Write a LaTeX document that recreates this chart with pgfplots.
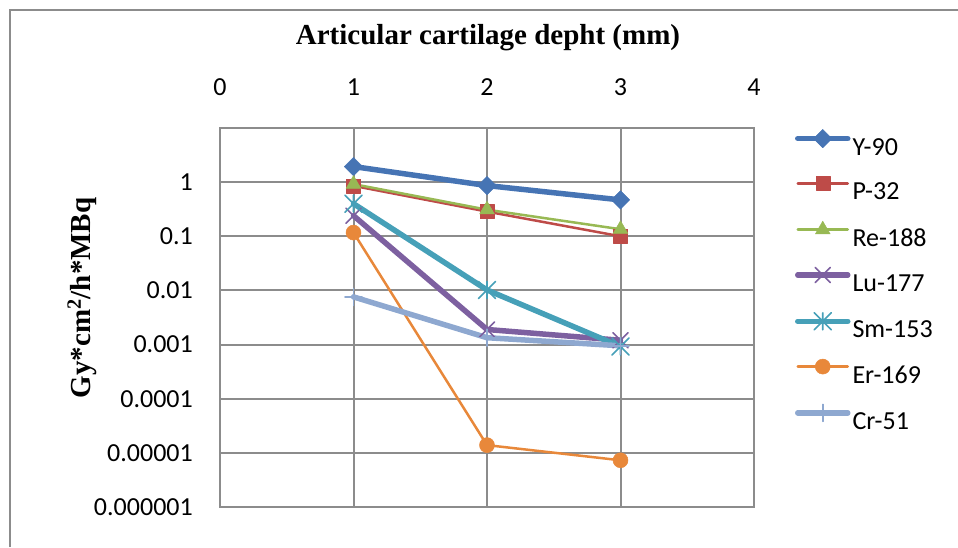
\documentclass[border=0pt]{standalone}
\usepackage{fontspec}
\setmainfont{Carlito}
\newfontfamily\tnr{Liberation Serif}
\usepackage{pgfplots}
\pgfplotsset{compat=1.18}
\definecolor{gridgray}{HTML}{8C8C8C}
\definecolor{cY}{HTML}{4674B4}
\definecolor{cP}{HTML}{BE4B48}
\definecolor{cRe}{HTML}{98B954}
\definecolor{cLu}{HTML}{7D60A0}
\definecolor{cSm}{HTML}{46A0B8}
\definecolor{cEr}{HTML}{E8883A}
\definecolor{cCr}{HTML}{8EA8D0}
\pgfdeclareplotmark{exx}{%
 \pgfpathmoveto{\pgfqpoint{-\pgfplotmarksize}{-\pgfplotmarksize}}%
 \pgfpathlineto{\pgfqpoint{\pgfplotmarksize}{\pgfplotmarksize}}%
 \pgfpathmoveto{\pgfqpoint{-\pgfplotmarksize}{\pgfplotmarksize}}%
 \pgfpathlineto{\pgfqpoint{\pgfplotmarksize}{-\pgfplotmarksize}}%
 \pgfusepathqstroke}
\pgfdeclareplotmark{exstar}{%
 \pgfpathmoveto{\pgfqpoint{-\pgfplotmarksize}{-\pgfplotmarksize}}%
 \pgfpathlineto{\pgfqpoint{\pgfplotmarksize}{\pgfplotmarksize}}%
 \pgfpathmoveto{\pgfqpoint{-\pgfplotmarksize}{\pgfplotmarksize}}%
 \pgfpathlineto{\pgfqpoint{\pgfplotmarksize}{-\pgfplotmarksize}}%
 \pgfpathmoveto{\pgfqpoint{0pt}{-\pgfplotmarksize}}%
 \pgfpathlineto{\pgfqpoint{0pt}{\pgfplotmarksize}}%
 \pgfusepathqstroke}
\pgfdeclareplotmark{explus}{%
 \pgfpathmoveto{\pgfqpoint{-\pgfplotmarksize}{0pt}}%
 \pgfpathlineto{\pgfqpoint{\pgfplotmarksize}{0pt}}%
 \pgfpathmoveto{\pgfqpoint{0pt}{-\pgfplotmarksize}}%
 \pgfpathlineto{\pgfqpoint{0pt}{\pgfplotmarksize}}%
 \pgfusepathqstroke}
\begin{document}
\begin{tikzpicture}
\useasboundingbox (0pt,0pt) rectangle (958pt,547pt);
\draw[gridgray, line width=2pt] (9.5pt,0pt) -- (9.5pt,537pt) -- (958pt,537pt);
\begin{axis}[
  at={(220pt,40pt)}, anchor=south west,
  scale only axis, width=534pt, height=379pt,
  xmin=0, xmax=4, ymin=1e-6, ymax=10, ymode=log,
  xtick={0,1,2,3,4}, xticklabel pos=upper,
  ytick={1e-6,1e-5,1e-4,1e-3,1e-2,1e-1,1},
  yticklabels={0.000001,0.00001,0.0001,0.001,0.01,0.1,1},
  minor y tick num=0, minor ytick={},
  major tick length=0pt, minor tick length=0pt,
  grid=major,
  major grid style={line width=2pt, color=gridgray},
  axis line style={line width=2pt, color=gridgray},
  /pgf/number format/assume math mode=true,
  tick label style={font=\fontsize{26}{31}\selectfont, text=black},
  yticklabel style={anchor=east, inner sep=0pt, xshift=-27pt},
  xticklabel style={anchor=south, inner sep=0pt, yshift=32pt},
  every axis plot/.append style={line join=round, line cap=round},
  legend style={at={(1.0768,0.9963)}, anchor=north west, draw=none, fill=none,
    inner sep=0pt, outer sep=0pt, row sep=17.3pt, column sep=2pt,
    font=\fontsize{26}{31}\selectfont,
    nodes={inner sep=0pt, text height=20pt, text depth=4pt}},
  legend cell align=left,
  legend image code/.code={\draw[#1, mark repeat=2, mark phase=2, yshift=8.5pt] plot coordinates {(0pt,0pt) (25pt,0pt) (50pt,0pt)};},
]
\addplot[color=cY, line width=5.5pt, mark=square*, mark size=6.5pt,
  mark options={rotate=45, line width=0.5pt, solid, fill=cY}]
  coordinates {(1,1.94) (2,0.865) (3,0.47)};
\addlegendentry{Y-90}
\addplot[color=cP, line width=2.5pt, mark=square*, mark size=7pt,
  mark options={line width=0.5pt, solid, fill=cP}]
  coordinates {(1,0.855) (2,0.286) (3,0.1)};
\addlegendentry{P-32}
\addplot[color=cRe, line width=2.5pt, mark=triangle*, mark size=8.5pt,
  mark options={line width=0.5pt, solid, fill=cRe}]
  coordinates {(1,0.92) (2,0.31) (3,0.135)};
\addlegendentry{Re-188}
\addplot[color=cLu, line width=5.5pt, mark=exx, mark size=7.5pt,
  mark options={line width=1.6pt, solid}]
  coordinates {(1,0.24) (2,0.0019) (3,0.0012)};
\addlegendentry{Lu-177}
\addplot[color=cSm, line width=5.5pt, mark=exstar, mark size=8.5pt,
  mark options={line width=1.6pt, solid}]
  coordinates {(1,0.40) (2,0.0102) (3,0.00092)};
\addlegendentry{Sm-153}
\addplot[color=cEr, line width=2.5pt, mark=*, mark size=7.5pt,
  mark options={line width=0.5pt, solid, fill=cEr}]
  coordinates {(1,0.117) (2,1.39e-5) (3,7.3e-6)};
\addlegendentry{Er-169}
\addplot[color=cCr, line width=5.5pt, mark=explus, mark size=8.5pt,
  mark options={line width=1.6pt, solid}]
  coordinates {(1,0.0076) (2,0.00134) (3,0.00095)};
\addlegendentry{Cr-51}
\end{axis}
\node[font=\tnr\bfseries\fontsize{29}{34}\selectfont, anchor=base] at (488pt,502pt) {Articular cartilage depht (mm)};
\node[font=\tnr\bfseries\fontsize{29}{34}\selectfont, anchor=base, rotate=90] at (90pt,249pt) {Gy*cm\textsuperscript{2}/h*MBq};
\end{tikzpicture}
\end{document}
